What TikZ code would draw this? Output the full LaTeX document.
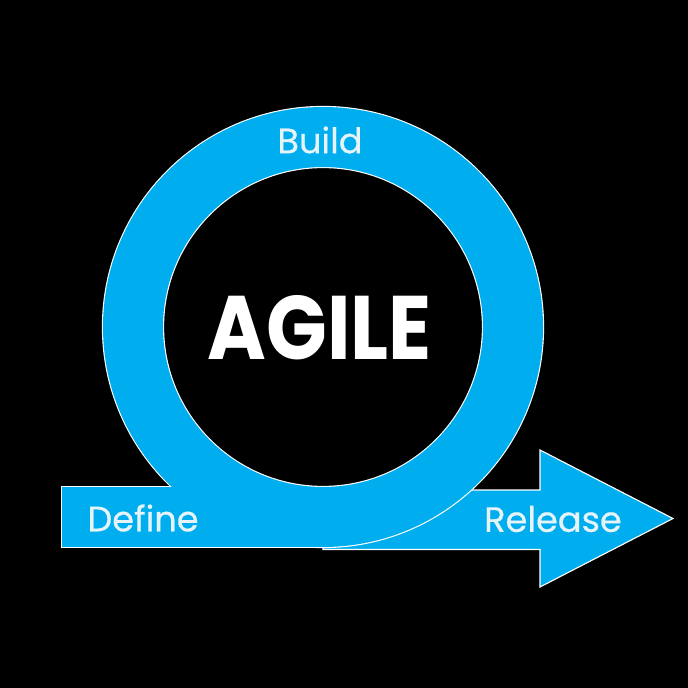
\documentclass[tikz,border=0pt]{standalone}
\usepackage{fontspec}
\newfontfamily\labelfont[FakeBold=0.5]{Poppins}
\newfontfamily\titlefont{Poppins}
\usetikzlibrary{positioning}
\definecolor{agileblue}{HTML}{00AEEF}
\definecolor{labelwhite}{HTML}{E6F4FA}

\begin{document}
\begin{tikzpicture}[x=0.025cm, y=-0.025cm,
    rim/.style={draw=white, line width=1.6pt},
    body/.style={fill=agileblue},
    lbl/.style={font=\labelfont\fontsize{25}{25}\selectfont, text=labelwhite, inner sep=0pt},
    title/.style={text=white, inner sep=0pt}]
  % background
  \fill[black] (0,0) rectangle (688,688);
  \coordinate (c) at (323,327);
  % release arrow, under the loop
  \filldraw[body, draw=white, line width=0.8pt] (323,490) -- (540,490) -- (540,450) -- (673,518.5)
    -- (540,587) -- (540,549.5) -- (323,549.5) -- cycle;
  % loop and define band: outlines first, then fill
  \draw[rim, even odd rule] (c) circle[radius=220] (c) circle[radius=160];
  \draw[rim] (62,487) rectangle (323,547);
  \fill[body, even odd rule] (c) circle[radius=220] (c) circle[radius=160];
  \fill[body] (62,487) rectangle (323,547);
  % texts
  \node[lbl] (build) at (320,140) {Build};
  \node[lbl] (define) at (143,518) {Define};
  \node[lbl] (release) at (553,519) {Release};
  \node[title] (agile) at (320,328) {\resizebox{5.6cm}{1.6cm}{\titlefont\bfseries AGILE}};
\end{tikzpicture}
\end{document}
